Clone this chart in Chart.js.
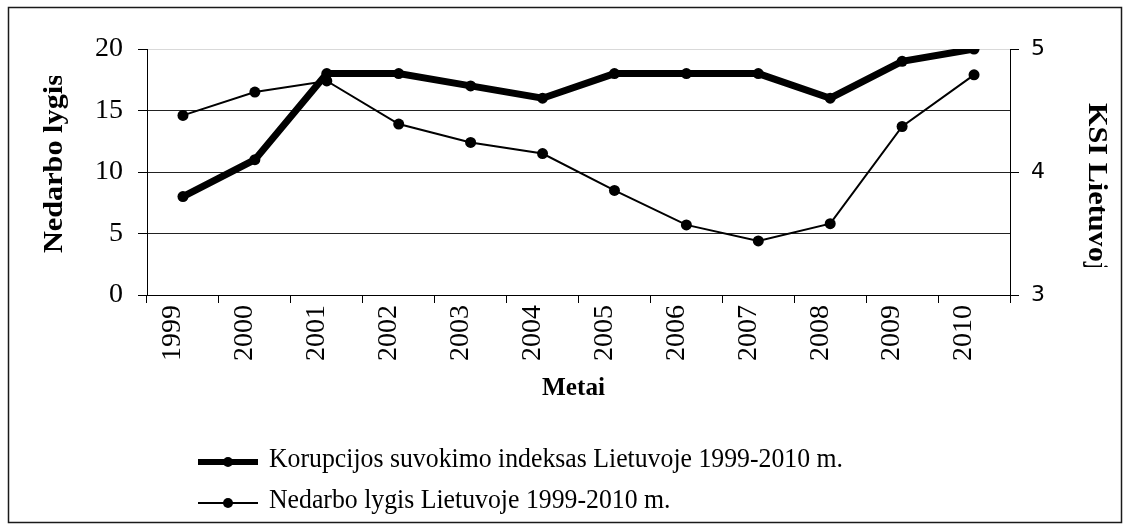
<!DOCTYPE html>
<html>
<head>
<meta charset="utf-8">
<script src="https://cdn.jsdelivr.net/npm/chart.js@4.4.1/dist/chart.umd.min.js"></script>
<style>
	html, body { margin: 0; padding: 0; background: #fff; }
	canvas { display: block; }
</style>
</head>
<body>
<canvas id="chart" width="1128" height="527"></canvas>
<script>
// chart data
const years = ['1999', '2000', '2001', '2002', '2003', '2004', '2005', '2006', '2007', '2008', '2009', '2010'];
const ksiValues = [3.8, 4.1, 4.8, 4.8, 4.7, 4.6, 4.8, 4.8, 4.8, 4.6, 4.9, 5.0];
const nedarboValues = [14.6, 16.5, 17.4, 13.9, 12.4, 11.5, 8.5, 5.7, 4.4, 5.8, 13.7, 17.9];
const leftRange = [0, 20, 5];
const rightRange = [3, 5, 1];
const seriesNames = ['Korupcijos suvokimo indeksas Lietuvoje 1999-2010 m.', 'Nedarbo lygis Lietuvoje 1999-2010 m.'];
const xTitle = 'Metai';
const leftTitle = 'Nedarbo lygis';
const rightTitle = 'KSI Lietuvoje';

const serif = '"Liberation Serif", "Times New Roman", serif';

// frame, axis titles and the two-row legend
let decorations = {
	id: 'decorations',
	afterDraw (chart) {
		let { ctx } = chart;
		ctx.save();

		// outer frame
		ctx.strokeStyle = '#1a1a1a';
		ctx.lineWidth = 1.5;
		ctx.strokeRect(8.5, 7.5, 1113, 515);

		ctx.fillStyle = '#000';
		ctx.textAlign = 'left';
		ctx.textBaseline = 'alphabetic';

		// left title, clipped at the top like the original text box
		ctx.save();
		ctx.beginPath();
		ctx.rect(0, 76, 120, 300);
		ctx.clip();
		ctx.translate(62, 253);
		ctx.rotate(-Math.PI / 2);
		ctx.scale(1.12, 1);
		ctx.font = 'bold 27px ' + serif;
		ctx.fillText(leftTitle, 0, 0);
		ctx.restore();

		// right title, clipped at the bottom
		ctx.save();
		ctx.beginPath();
		ctx.rect(1060, 0, 60, 267);
		ctx.clip();
		ctx.translate(1089, 103);
		ctx.rotate(Math.PI / 2);
		ctx.scale(1.12, 1);
		ctx.font = 'bold 27px ' + serif;
		ctx.fillText(rightTitle, 0, 0);
		ctx.restore();

		// x title
		ctx.font = 'bold 26px ' + serif;
		let xw = ctx.measureText(xTitle).width;
		ctx.save();
		ctx.translate(573.5, 395);
		ctx.scale(63 / xw, 1);
		ctx.textAlign = 'center';
		ctx.fillText(xTitle, 0, 0);
		ctx.restore();

		// legend
		ctx.font = '27px ' + serif;
		let squeeze = 574 / ctx.measureText(chart.data.datasets[0].label).width;
		let rows = [462, 503];
		chart.data.datasets.forEach((ds, i) => {
			let y = rows[i];
			ctx.strokeStyle = ds.borderColor;
			ctx.lineWidth = ds.legendWidth;
			ctx.beginPath();
			ctx.moveTo(198, y);
			ctx.lineTo(258, y);
			ctx.stroke();
			ctx.beginPath();
			ctx.arc(228, y, 5, 0, Math.PI * 2);
			ctx.fill();
			ctx.save();
			ctx.translate(269, y + 5);
			ctx.scale(squeeze, 1);
			ctx.fillText(ds.label, 0, 0);
			ctx.restore();
		});

		ctx.restore();
	},
};

let config = {
	type: 'line',
	data: {
		labels: years,
		datasets: [
			{
				label: seriesNames[0],
				data: ksiValues,
				yAxisID: 'y1',
				borderColor: '#000',
				backgroundColor: '#000',
				borderWidth: 7,
				legendWidth: 6,
				pointRadius: 5.5,
				pointBorderWidth: 0,
				pointBackgroundColor: '#000',
				pointBorderColor: '#000',
				tension: 0,
			},
			{
				label: seriesNames[1],
				data: nedarboValues,
				yAxisID: 'y',
				borderColor: '#000',
				backgroundColor: '#000',
				borderWidth: 2,
				legendWidth: 2,
				pointRadius: 5.5,
				pointBorderWidth: 0,
				pointBackgroundColor: '#000',
				pointBorderColor: '#000',
				tension: 0,
			},
		],
	},
	options: {
		responsive: false,
		animation: false,
		devicePixelRatio: 1,
		layout: {
			padding: { top: 49, left: 0, right: 0, bottom: 0 },
		},
		plugins: {
			legend: { display: false },
			tooltip: { enabled: false },
		},
		scales: {
			x: {
				type: 'category',
				offset: true,
				grid: {
					offset: true,
					drawOnChartArea: false,
					tickLength: 8,
					color: '#000',
				},
				border: { color: '#000' },
				ticks: {
					minRotation: 90,
					maxRotation: 90,
					padding: 2,
					labelOffset: -10,
					color: '#000',
					font: { family: serif, size: 28 },
				},
				afterFit: (scale) => { scale.height = 232; },
			},
			y: {
				position: 'left',
				min: leftRange[0],
				max: leftRange[1],
				ticks: {
					stepSize: leftRange[2],
					padding: 15,
					color: '#000',
					font: { family: serif, size: 28 },
				},
				grid: {
					color: (ctx) => ctx.tick && ctx.tick.value === leftRange[1] ? '#d9d9d9' : '#222',
					tickColor: '#000',
					tickLength: 9,
					lineWidth: 1,
				},
				border: { color: '#000' },
				afterFit: (scale) => { scale.width = 147; },
			},
			y1: {
				position: 'right',
				min: rightRange[0],
				max: rightRange[1],
				ticks: {
					stepSize: rightRange[2],
					padding: 12,
					color: '#000',
					font: { family: '"DejaVu Sans", sans-serif', size: 22 },
				},
				grid: {
					drawOnChartArea: false,
					tickColor: '#000',
					tickLength: 9,
				},
				border: { color: '#000' },
				afterFit: (scale) => { scale.width = 118; },
			},
		},
	},
	plugins: [ decorations ],
};

new Chart(document.getElementById('chart'), config);
</script>
</body>
</html>
